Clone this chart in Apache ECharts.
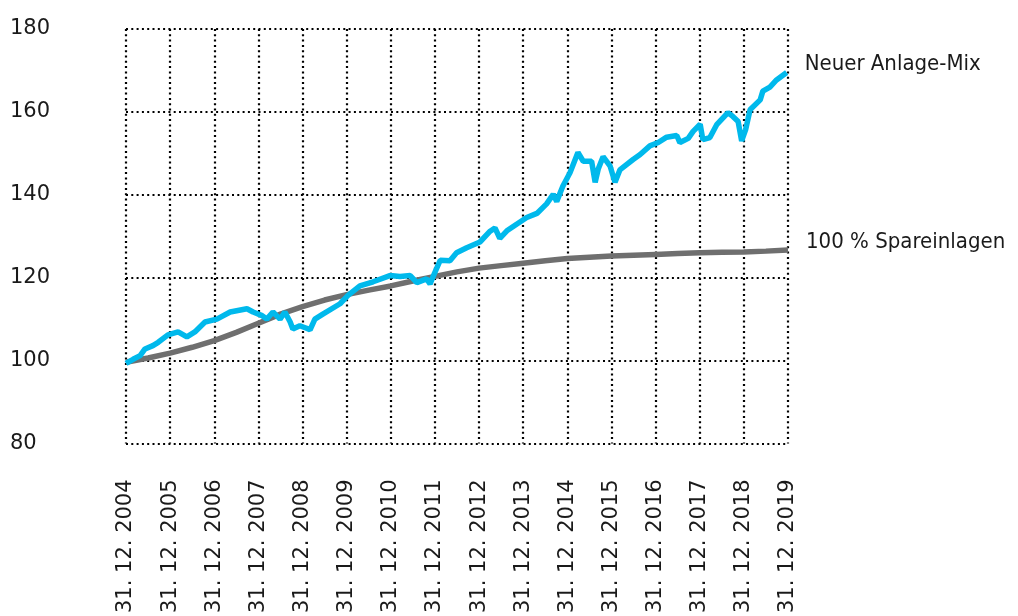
<!DOCTYPE html>
<html><head><meta charset="utf-8">
<script src="https://cdn.jsdelivr.net/npm/echarts@6/dist/echarts.min.js"></script>
<style>html,body{margin:0;padding:0;background:#fff}#c{width:1018px;height:616px}</style>
</head><body><div id="c"></div>
<script>
// x = years since 31.12.2004
const tickLabels = ['31. 12. 2004','31. 12. 2005','31. 12. 2006','31. 12. 2007','31. 12. 2008','31. 12. 2009','31. 12. 2010','31. 12. 2011','31. 12. 2012','31. 12. 2013','31. 12. 2014','31. 12. 2015','31. 12. 2016','31. 12. 2017','31. 12. 2018','31. 12. 2019'];
const yTicks = [80, 100, 120, 140, 160, 180];
const seriesNames = ['100 % Spareinlagen', 'Neuer Anlage-Mix'];

const spareT = [0,0.5,1,1.5,2,2.5,3,3.5,4,4.5,5,5.5,6,6.5,7,7.5,8,8.5,9,9.5,10,10.5,11,11.5,12,12.5,13,13.5,14,14.5,15];
const spareV = [99.6,100.6,101.8,103.2,104.8,106.8,109,111.2,113,114.6,115.9,117,118,119.2,120.3,121.4,122.3,122.9,123.5,124.1,124.6,124.9,125.2,125.4,125.6,125.8,126,126.1,126.2,126.4,126.7];

const mixT = [0,0.02,0.16,0.32,0.43,0.61,0.73,0.95,1.18,1.38,1.56,1.79,2.06,2.36,2.74,2.88,3.07,3.19,3.33,3.49,3.60,3.72,3.78,3.94,4.09,4.17,4.28,4.46,4.85,5.03,5.30,5.60,5.98,6.21,6.44,6.59,6.81,6.89,6.96,7.12,7.34,7.49,7.72,8.02,8.25,8.36,8.47,8.63,8.85,9.08,9.31,9.53,9.68,9.76,9.90,10.06,10.24,10.36,10.55,10.63,10.70,10.81,10.97,11.08,11.19,11.49,11.65,11.87,12.06,12.25,12.48,12.55,12.74,12.85,13.01,13.07,13.23,13.39,13.64,13.75,13.87,13.95,14.04,14.14,14.37,14.43,14.59,14.74,14.97];
const mixV = [99.3,99.6,100.3,101.2,102.8,103.6,104.4,106.2,106.9,105.7,106.9,109.3,110,111.7,112.5,111.7,110.9,110,111.7,110,111.7,109.3,107.6,108.4,107.8,107.4,110,111.2,113.7,115.7,118,119,120.5,120.3,120.5,118.8,119.7,118.5,120.3,124.2,124.1,126,127.2,128.6,131.2,132,129.5,131.3,132.9,134.5,135.5,137.8,140.1,138.4,142.1,145.3,150.2,148.1,148.1,143,146.2,149.2,146.9,143,146,148.5,149.7,151.8,152.6,153.9,154.3,152.6,153.6,155.3,157,153.3,153.8,157,159.8,158.9,157.7,153,155.7,160.5,162.9,165,166,167.7,169.5];

const zip = (a, b) => a.map((x, i) => [x, b[i]]);
const FONT = '"DejaVu Sans", sans-serif';
const FONT_C = '"DejaVu Sans Condensed", "DejaVu Sans", sans-serif';
const dotted = { color: '#000', width: 2.2, type: [2, 3.3] };

const chart = echarts.init(document.getElementById('c'), null, { renderer: 'canvas' });
chart.setOption({
  animation: false,
  grid: { left: 126, right: 230, top: 29, bottom: 171, containLabel: false },
  xAxis: {
    type: 'value', min: 0, max: tickLabels.length - 1, interval: 1,
    axisLine: { show: false }, axisTick: { show: false },
    splitLine: { show: true, lineStyle: dotted },
    axisLabel: {
      rotate: 90, margin: 36, fontFamily: FONT, fontSize: 21, color: '#1a1a1a',
      padding: [0, 0, 6, 0],
      formatter: v => tickLabels[Math.round(v)] || ''
    }
  },
  yAxis: {
    type: 'value', min: yTicks[0], max: yTicks[yTicks.length - 1], interval: 20,
    axisLine: { show: false }, axisTick: { show: false },
    splitLine: { show: true, lineStyle: dotted },
    axisLabel: {
      align: 'left', margin: 116, fontFamily: FONT, fontSize: 21, color: '#1a1a1a',
      padding: [0, 0, 16, 0]
    }
  },
  series: [
    {
      name: seriesNames[0], type: 'line', showSymbol: false, symbol: 'none',
      data: zip(spareT, spareV),
      lineStyle: { color: '#6f6f6f', width: 5.5 },
      endLabel: { show: true, formatter: '{a}', distance: 18, offset: [0, -8],
        fontFamily: FONT_C, fontSize: 22, color: '#1a1a1a' }
    },
    {
      name: seriesNames[1], type: 'line', showSymbol: false, symbol: 'none',
      data: zip(mixT, mixV),
      lineStyle: { color: '#00b9ec', width: 5.5 },
      endLabel: { show: true, formatter: '{a}', distance: 18, offset: [0, -8],
        fontFamily: FONT_C, fontSize: 22, color: '#1a1a1a' }
    }
  ]
});
</script>
</body></html>
